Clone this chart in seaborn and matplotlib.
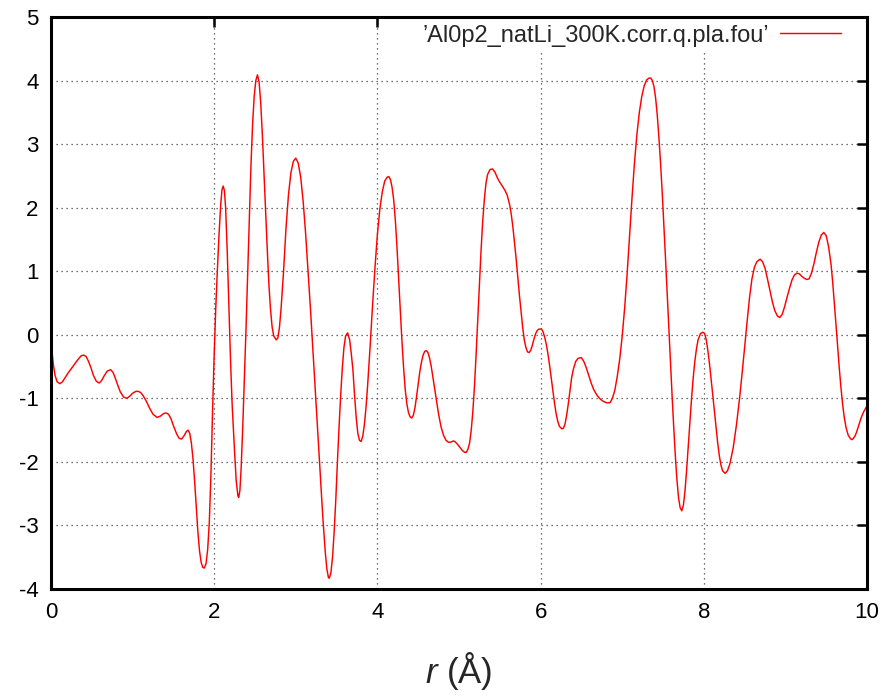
import matplotlib
matplotlib.use("Agg")
import matplotlib.pyplot as plt
import seaborn as sns
import pandas as pd

# Data (r in Angstrom, curve value)
r_vals = [0.00, 0.015, 0.03, 0.05, 0.075, 0.11, 0.14, 0.17, 0.21, 0.25, 0.29, 0.33, 0.37, 0.40, 0.43,
          0.46, 0.49, 0.52, 0.555, 0.59, 0.62, 0.65, 0.69, 0.73, 0.76, 0.79, 0.82, 0.85, 0.89, 0.93,
          0.97, 1.00, 1.04, 1.07, 1.10, 1.13, 1.17, 1.21, 1.25, 1.30, 1.34, 1.38, 1.41, 1.44, 1.47,
          1.50, 1.54, 1.57, 1.60, 1.63, 1.66, 1.68, 1.70, 1.72, 1.74, 1.76, 1.78, 1.80, 1.82, 1.84,
          1.86, 1.88, 1.90, 1.92, 1.94, 1.96, 1.98, 2.00, 2.02, 2.04, 2.06, 2.08, 2.095, 2.11, 2.125,
          2.14, 2.16, 2.18, 2.20, 2.22, 2.25, 2.27, 2.29, 2.30, 2.315, 2.33, 2.35, 2.37, 2.39, 2.41,
          2.43, 2.45, 2.47, 2.49, 2.51, 2.53, 2.55, 2.57, 2.59, 2.61, 2.63, 2.65, 2.67, 2.69, 2.71,
          2.73, 2.76, 2.78, 2.80, 2.82, 2.85, 2.88, 2.91, 2.94, 2.97, 3.00, 3.03, 3.06, 3.09, 3.12,
          3.15, 3.18, 3.21, 3.24, 3.27, 3.30, 3.33, 3.36, 3.38, 3.40, 3.41, 3.43, 3.45, 3.47, 3.49,
          3.51, 3.53, 3.55, 3.57, 3.59, 3.61, 3.635, 3.66, 3.68, 3.70, 3.72, 3.74, 3.76, 3.78, 3.80,
          3.82, 3.84, 3.86, 3.88, 3.91, 3.94, 3.97, 4.00, 4.03, 4.06, 4.09, 4.12, 4.14, 4.16, 4.18,
          4.20, 4.22, 4.24, 4.26, 4.28, 4.30, 4.32, 4.34, 4.36, 4.38, 4.40, 4.42, 4.44, 4.46, 4.48,
          4.50, 4.52, 4.54, 4.56, 4.58, 4.60, 4.62, 4.64, 4.66, 4.69, 4.72, 4.75, 4.78, 4.81, 4.84,
          4.87, 4.90, 4.93, 4.95, 4.98, 5.01, 5.04, 5.07, 5.09, 5.11, 5.13, 5.15, 5.17, 5.19, 5.21,
          5.23, 5.25, 5.27, 5.29, 5.31, 5.33, 5.35, 5.38, 5.41, 5.44, 5.47, 5.50, 5.53, 5.56, 5.59,
          5.62, 5.64, 5.66, 5.68, 5.70, 5.72, 5.74, 5.76, 5.78, 5.80, 5.82, 5.84, 5.86, 5.88, 5.90,
          5.92, 5.94, 5.96, 5.98, 6.01, 6.03, 6.05, 6.07, 6.09, 6.11, 6.13, 6.15, 6.17, 6.19, 6.21,
          6.23, 6.26, 6.28, 6.30, 6.32, 6.34, 6.36, 6.38, 6.40, 6.43, 6.46, 6.50, 6.53, 6.56, 6.59,
          6.62, 6.65, 6.69, 6.73, 6.77, 6.81, 6.85, 6.88, 6.91, 6.94, 6.97, 7.00, 7.03, 7.06, 7.09,
          7.12, 7.15, 7.18, 7.21, 7.24, 7.27, 7.30, 7.33, 7.35, 7.37, 7.39, 7.41, 7.43, 7.45, 7.47,
          7.49, 7.51, 7.53, 7.55, 7.57, 7.59, 7.61, 7.63, 7.65, 7.67, 7.69, 7.71, 7.73, 7.75, 7.77,
          7.79, 7.81, 7.83, 7.85, 7.87, 7.89, 7.91, 7.93, 7.96, 7.99, 8.01, 8.03, 8.05, 8.07, 8.09,
          8.11, 8.13, 8.15, 8.17, 8.19, 8.21, 8.23, 8.26, 8.29, 8.32, 8.36, 8.40, 8.44, 8.47, 8.50,
          8.53, 8.56, 8.59, 8.62, 8.65, 8.69, 8.72, 8.75, 8.78, 8.81, 8.84, 8.87, 8.90, 8.93, 8.96,
          8.99, 9.02, 9.05, 9.08, 9.11, 9.14, 9.17, 9.20, 9.23, 9.26, 9.29, 9.32, 9.35, 9.38, 9.41,
          9.44, 9.47, 9.50, 9.53, 9.56, 9.58, 9.60, 9.62, 9.64, 9.66, 9.68, 9.70, 9.72, 9.745, 9.77,
          9.80, 9.82, 9.85, 9.87, 9.90, 9.93, 9.96, 10.00]
g_vals = [-0.10, -0.30, -0.48, -0.64, -0.74, -0.77, -0.74, -0.68, -0.60, -0.53, -0.46, -0.39, -0.33, -0.32, -0.34,
          -0.42, -0.52, -0.64, -0.73, -0.76, -0.72, -0.65, -0.57, -0.55, -0.59, -0.69, -0.80, -0.90, -0.98, -1.00,
          -0.96, -0.92, -0.89, -0.89, -0.91, -0.96, -1.05, -1.16, -1.25, -1.30, -1.28, -1.24, -1.23, -1.25, -1.32,
          -1.43, -1.56, -1.63, -1.64, -1.59, -1.52, -1.50, -1.55, -1.70, -1.95, -2.30, -2.70, -3.10, -3.40, -3.58,
          -3.66, -3.67, -3.60, -3.38, -2.95, -2.20, -1.20, -0.30, 0.45, 1.05, 1.60, 2.05, 2.28, 2.34, 2.27,
          2.00, 1.30, 0.45, -0.40, -1.10, -1.85, -2.30, -2.53, -2.56, -2.45, -2.10, -1.45, -0.70, 0.10, 0.95,
          1.85, 2.65, 3.30, 3.75, 4.00, 4.09, 3.98, 3.65, 3.15, 2.55, 1.95, 1.35, 0.80, 0.40, 0.12,
          -0.02, -0.08, -0.05, 0.12, 0.42, 1.00, 1.68, 2.20, 2.55, 2.73, 2.78, 2.70, 2.48, 2.10, 1.60,
          1.00, 0.40, -0.25, -0.90, -1.55, -2.20, -2.85, -3.40, -3.68, -3.82, -3.83, -3.75, -3.50, -3.10, -2.60,
          -2.00, -1.45, -0.95, -0.52, -0.20, -0.02, 0.03, -0.08, -0.30, -0.55, -0.95, -1.30, -1.55, -1.66, -1.68,
          -1.60, -1.42, -1.15, -0.80, -0.20, 0.45, 1.05, 1.58, 1.98, 2.25, 2.42, 2.48, 2.49, 2.44, 2.32,
          2.12, 1.80, 1.38, 0.88, 0.40, -0.08, -0.50, -0.85, -1.08, -1.22, -1.29, -1.31, -1.27, -1.15, -0.97,
          -0.77, -0.58, -0.43, -0.32, -0.26, -0.25, -0.28, -0.37, -0.50, -0.75, -1.00, -1.25, -1.45, -1.58, -1.66,
          -1.69, -1.69, -1.67, -1.68, -1.72, -1.77, -1.82, -1.85, -1.85, -1.80, -1.70, -1.50, -1.20, -0.80, -0.30,
          0.25, 0.80, 1.32, 1.78, 2.12, 2.38, 2.52, 2.60, 2.61, 2.56, 2.47, 2.40, 2.34, 2.28, 2.20,
          2.05, 1.90, 1.70, 1.45, 1.20, 0.92, 0.63, 0.38, 0.12, -0.08, -0.20, -0.27, -0.28, -0.24, -0.16,
          -0.06, 0.02, 0.07, 0.09, 0.09, 0.05, -0.04, -0.15, -0.30, -0.48, -0.68, -0.88, -1.07, -1.24, -1.36,
          -1.44, -1.48, -1.47, -1.40, -1.26, -1.08, -0.88, -0.68, -0.55, -0.42, -0.37, -0.36, -0.42, -0.52, -0.64,
          -0.76, -0.86, -0.95, -1.01, -1.05, -1.07, -1.07, -1.00, -0.87, -0.65, -0.38, -0.02, 0.42, 0.95, 1.55,
          2.15, 2.70, 3.15, 3.50, 3.75, 3.92, 4.01, 4.04, 4.04, 4.00, 3.90, 3.72, 3.45, 3.10, 2.70,
          2.25, 1.75, 1.22, 0.68, 0.13, -0.40, -0.92, -1.42, -1.88, -2.27, -2.56, -2.72, -2.77, -2.68, -2.45,
          -2.12, -1.75, -1.36, -1.00, -0.68, -0.42, -0.22, -0.08, 0.02, 0.04, 0.02, -0.08, -0.25, -0.46, -0.70,
          -0.95, -1.20, -1.45, -1.70, -1.90, -2.05, -2.14, -2.18, -2.14, -2.03, -1.78, -1.42, -0.98, -0.60, -0.20,
          0.20, 0.58, 0.88, 1.06, 1.15, 1.19, 1.15, 1.05, 0.88, 0.70, 0.52, 0.38, 0.30, 0.27, 0.32,
          0.44, 0.59, 0.73, 0.86, 0.94, 0.97, 0.96, 0.92, 0.89, 0.87, 0.88, 0.97, 1.12, 1.30, 1.46,
          1.57, 1.61, 1.56, 1.38, 1.10, 0.82, 0.50, 0.16, -0.19, -0.52, -0.82, -1.08, -1.29, -1.47, -1.58,
          -1.64, -1.65, -1.60, -1.54, -1.42, -1.30, -1.21, -1.12]
series_label = "\u2019Al0p2_natLi_300K.corr.q.pla.fou\u2019"
x_ticks = [0, 2, 4, 6, 8, 10]
y_ticks = [-4, -3, -2, -1, 0, 1, 2, 3, 4, 5]

sns.set_style("white")
plt.rcParams['font.family'] = ['Liberation Sans', 'DejaVu Sans']
plt.rcParams['mathtext.fontset'] = 'custom'
plt.rcParams['mathtext.it'] = 'Liberation Sans:italic'
plt.rcParams['mathtext.rm'] = 'Liberation Sans'

df = pd.DataFrame({"r": r_vals, "g": g_vals})

fig = plt.figure(figsize=(8.85, 6.97), dpi=100)
ax = fig.add_axes([51/885, 1 - 589/697, (867 - 51)/885, (589 - 17)/697])

sns.lineplot(data=df, x="r", y="g", ax=ax, color="#ff0000", linewidth=1.05,
             label=series_label, sort=False, estimator=None)

ax.set_xlim(0, 10)
ax.set_ylim(-4, 5)
ax.set_xticks(x_ticks)
ax.set_yticks(y_ticks)
ax.set_xticklabels([str(t) for t in x_ticks])
ax.set_yticklabels([str(t) for t in y_ticks])

ax.grid(True, color="#444444", linestyle=(0, (1, 3)), linewidth=0.9)
ax.set_axisbelow(True)
for s in ax.spines.values():
    s.set_visible(True)
    s.set_linewidth(2.2)
    s.set_color("black")
ax.tick_params(axis="both", which="major", direction="in", length=7, width=1.8,
               top=True, right=True, labelsize=16, pad=9, colors="black")

ax.set_xlabel(r"$r$ (Å)", fontsize=25, labelpad=20)
ax.set_ylabel("")

leg = ax.legend(loc="upper right", bbox_to_anchor=(0.9755, 0.997), frameon=True,
                fontsize=17, markerfirst=False, handlelength=2.6, handletextpad=0.45,
                borderpad=0.25, borderaxespad=0.0, fancybox=False)
leg.get_frame().set_edgecolor("none")
leg.get_frame().set_facecolor("white")
leg.get_frame().set_alpha(1.0)
leg.set_zorder(2.4)

fig.savefig("out.png", dpi=100)
